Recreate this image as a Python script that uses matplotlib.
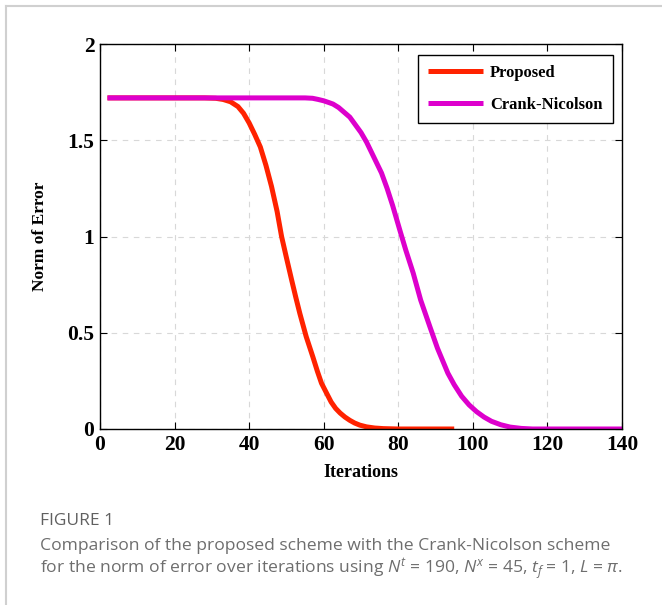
import matplotlib.pyplot as plt
from matplotlib.lines import Line2D

plt.rcParams["mathtext.fontset"] = "custom"
plt.rcParams["mathtext.rm"] = "Open Sans"
plt.rcParams["mathtext.it"] = "Open Sans:italic"

# values
prop_x = [2, 10, 20, 28, 31, 33, 35, 37, 38.5, 40, 41.5, 43, 44.5, 46, 47.5,
          48.7, 50, 51.4, 52.5, 53.6, 55.3, 57.1, 58.3, 59.4, 60.8, 62, 63.2,
          64.4, 65.7, 67, 68.3, 69.7, 71.5, 73.7, 76, 80, 95]
prop_y = [1.72, 1.72, 1.72, 1.72, 1.718, 1.712, 1.70, 1.675, 1.64, 1.59, 1.53,
          1.465, 1.37, 1.26, 1.13, 1.0, 0.89, 0.774, 0.685, 0.60, 0.48, 0.374,
          0.30, 0.238, 0.185, 0.14, 0.107, 0.083, 0.062, 0.045, 0.031, 0.02,
          0.011, 0.005, 0.002, 0, 0]
cn_x = [2, 20, 40, 55, 57, 58.5, 60, 61.5, 62.5, 64, 65.5, 67, 68.5, 70, 71.5,
        73.5, 75.5, 77, 78.5, 80.4, 82, 84, 86, 88.5, 90.5, 93.3, 95, 97, 99,
        101, 103, 105, 107.5, 110, 113, 116, 140]
cn_y = [1.72, 1.72, 1.72, 1.72, 1.718, 1.712, 1.705, 1.695, 1.688, 1.67, 1.645,
        1.62, 1.58, 1.54, 1.49, 1.41, 1.33, 1.25, 1.16, 1.034, 0.93, 0.81,
        0.67, 0.53, 0.42, 0.29, 0.23, 0.17, 0.125, 0.09, 0.062, 0.04, 0.022,
        0.01, 0.003, 0, 0]
xticks = [0, 20, 40, 60, 80, 100, 120, 140]
yticks = [0, 0.5, 1, 1.5, 2]
ytick_labels = ["0", "0.5", "1", "1.5", "2"]

fnt = dict(family="Liberation Serif", weight="bold")

fig = plt.figure(figsize=(6.62, 6.05), dpi=100)

# light grey frame (left and top edge of the page)
fig.add_artist(Line2D([5.5 / 662, 5.5 / 662], [0, 1 - 5.5 / 605],
                      color="#d0d0d0", lw=1.5))
fig.add_artist(Line2D([5.5 / 662, 1], [1 - 5.5 / 605, 1 - 5.5 / 605],
                      color="#d0d0d0", lw=1.5))

ax = fig.add_axes([100 / 662, 1 - 429 / 605, 522 / 662, 385 / 605])
ax.plot(prop_x, prop_y, color="#ff2200", lw=3.6, label="Proposed",
        solid_capstyle="butt")
ax.plot(cn_x, cn_y, color="#dd00cc", lw=3.6, label="Crank-Nicolson",
        solid_capstyle="butt")

ax.set_xlim(0, 140)
ax.set_ylim(0, 2)
ax.set_xticks(xticks)
ax.set_yticks(yticks)
ax.set_xticklabels([str(t) for t in xticks], fontsize=15.5, **fnt)
ax.set_yticklabels(ytick_labels, fontsize=15.5, **fnt)
ax.tick_params(direction="in", length=5, width=0.8, top=True, right=True,
               pad=4)
ax.grid(True, ls=(0, (5, 5)), color="#d8d8d8", lw=0.8)
for s in ax.spines.values():
    s.set_linewidth(1.0)

ax.set_xlabel("Iterations", fontsize=13, labelpad=7, **fnt)
ax.set_ylabel("Norm of Error", fontsize=12.5, labelpad=14, **fnt)

leg = ax.legend(loc="upper right", bbox_to_anchor=(0.982, 0.972),
                fancybox=False, edgecolor="black", framealpha=1,
                handlelength=3.3, handletextpad=0.45, borderpad=0.6,
                labelspacing=0.95, borderaxespad=0,
                prop=dict(size=12, **fnt))
leg.get_frame().set_linewidth(1.0)

# caption
fig.text(40 / 662, 1 - 521 / 605, "FIGURE 1", fontsize=12.5, color="#606060",
         family="Open Sans", va="center")
fig.text(40 / 662, 1 - 546 / 605,
         "Comparison of the proposed scheme with the Crank-Nicolson scheme",
         fontsize=12.6, color="#6e6e6e", family="Open Sans", va="center")
fig.text(40 / 662, 1 - 569 / 605,
         r"for the norm of error over iterations using $N^t$ = 190, "
         r"$N^x$ = 45, $t_f$ = 1, $L$ = $\pi$.",
         fontsize=12.6, color="#6e6e6e", family="Open Sans", va="center")

plt.savefig("out.png", dpi=100)
